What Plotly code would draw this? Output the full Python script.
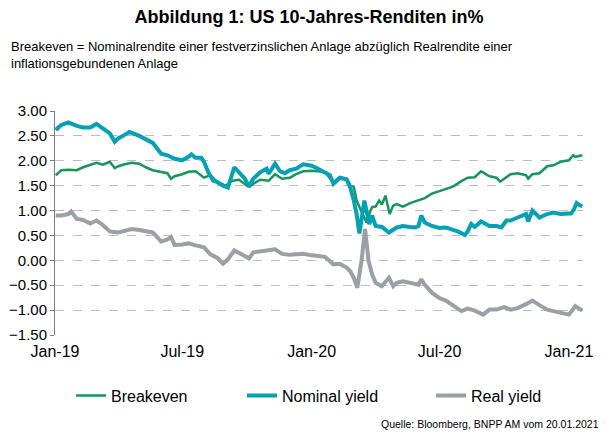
import plotly.graph_objects as go

# Breakeven
be_dates = ["2019-01-02", "2019-01-10", "2019-01-20", "2019-02-01", "2019-02-10", "2019-02-20",
            "2019-03-01", "2019-03-10", "2019-03-20", "2019-03-27", "2019-04-01", "2019-04-10",
            "2019-04-20", "2019-05-01", "2019-05-10", "2019-05-20", "2019-06-01", "2019-06-10",
            "2019-06-15", "2019-06-20", "2019-07-01", "2019-07-10", "2019-07-20", "2019-08-01",
            "2019-08-10", "2019-08-20", "2019-09-01", "2019-09-10", "2019-09-20", "2019-10-01",
            "2019-10-05", "2019-10-10", "2019-10-20", "2019-11-01", "2019-11-10", "2019-11-20",
            "2019-12-01", "2019-12-10", "2019-12-20", "2020-01-01", "2020-01-10", "2020-01-20",
            "2020-02-01", "2020-02-10", "2020-02-20", "2020-02-25", "2020-03-01", "2020-03-05",
            "2020-03-09", "2020-03-12", "2020-03-16", "2020-03-19", "2020-03-23", "2020-03-27",
            "2020-04-01", "2020-04-06", "2020-04-10", "2020-04-15", "2020-04-21", "2020-04-26",
            "2020-05-01", "2020-05-10", "2020-05-20", "2020-06-01", "2020-06-10", "2020-06-20",
            "2020-07-01", "2020-07-10", "2020-07-20", "2020-08-01", "2020-08-10", "2020-08-20",
            "2020-08-29", "2020-09-10", "2020-09-20", "2020-09-25", "2020-10-01", "2020-10-10",
            "2020-10-20", "2020-11-01", "2020-11-04", "2020-11-10", "2020-11-20", "2020-12-01",
            "2020-12-10", "2020-12-20", "2021-01-01", "2021-01-07", "2021-01-10", "2021-01-20"]
breakeven = [1.71, 1.81, 1.82, 1.81, 1.87, 1.91,
             1.96, 1.92, 1.98, 1.85, 1.89, 1.93,
             1.96, 1.94, 1.87, 1.81, 1.77, 1.75,
             1.64, 1.69, 1.73, 1.78, 1.79, 1.66,
             1.71, 1.57, 1.50, 1.60, 1.62, 1.50,
             1.48, 1.54, 1.62, 1.60, 1.73, 1.64,
             1.66, 1.73, 1.79, 1.80, 1.79, 1.77,
             1.57, 1.67, 1.64, 1.50, 1.48, 1.20,
             1.07, 0.97, 0.86, 0.76, 0.93, 1.07,
             1.08, 1.20, 1.12, 1.30, 0.93, 1.10,
             1.13, 1.08, 1.15, 1.20, 1.25, 1.34,
             1.39, 1.43, 1.48, 1.59, 1.66, 1.67,
             1.79, 1.69, 1.66, 1.58, 1.64, 1.73,
             1.75, 1.71, 1.64, 1.73, 1.75, 1.89,
             1.91, 1.98, 2.01, 2.11, 2.08, 2.11]

# Nominal yield
nom_dates = ["2019-01-02", "2019-01-10", "2019-01-20", "2019-02-01", "2019-02-10", "2019-02-20",
             "2019-03-01", "2019-03-10", "2019-03-20", "2019-03-27", "2019-04-01", "2019-04-10",
             "2019-04-17", "2019-05-01", "2019-05-10", "2019-05-20", "2019-06-01", "2019-06-10",
             "2019-06-20", "2019-07-01", "2019-07-10", "2019-07-14", "2019-07-20", "2019-07-28",
             "2019-08-01", "2019-08-07", "2019-08-14", "2019-08-20", "2019-08-28", "2019-09-04",
             "2019-09-13", "2019-09-20", "2019-09-28", "2019-10-04", "2019-10-10", "2019-10-20",
             "2019-10-29", "2019-11-01", "2019-11-10", "2019-11-17", "2019-11-24", "2019-12-01",
             "2019-12-10", "2019-12-20", "2020-01-01", "2020-01-10", "2020-01-20", "2020-01-27",
             "2020-02-01", "2020-02-10", "2020-02-20", "2020-02-25", "2020-03-01", "2020-03-05",
             "2020-03-09", "2020-03-12", "2020-03-16", "2020-03-19", "2020-03-23", "2020-03-27",
             "2020-04-01", "2020-04-10", "2020-04-20", "2020-05-01", "2020-05-10", "2020-05-20",
             "2020-05-27", "2020-06-01", "2020-06-05", "2020-06-10", "2020-06-20", "2020-07-01",
             "2020-07-10", "2020-07-20", "2020-07-27", "2020-08-06", "2020-08-10", "2020-08-15",
             "2020-08-20", "2020-08-29", "2020-09-10", "2020-09-20", "2020-09-27", "2020-10-04",
             "2020-10-10", "2020-10-20", "2020-11-01", "2020-11-04", "2020-11-10", "2020-11-20",
             "2020-12-01", "2020-12-10", "2020-12-20", "2021-01-01", "2021-01-04", "2021-01-08",
             "2021-01-12", "2021-01-15", "2021-01-20"]
nominal = [2.62, 2.72, 2.77, 2.70, 2.67, 2.67,
           2.74, 2.65, 2.55, 2.38, 2.45, 2.52,
           2.58, 2.50, 2.43, 2.36, 2.14, 2.11,
           2.04, 2.01, 2.08, 2.13, 2.06, 2.06,
           1.98, 1.77, 1.60, 1.57, 1.50, 1.46,
           1.87, 1.77, 1.64, 1.48, 1.64, 1.77,
           1.84, 1.74, 1.94, 1.79, 1.75, 1.81,
           1.84, 1.93, 1.90, 1.84, 1.77, 1.71,
           1.54, 1.66, 1.62, 1.46, 1.20, 0.93,
           0.54, 0.86, 1.20, 1.00, 0.73, 0.90,
           0.69, 0.67, 0.56, 0.66, 0.69, 0.67,
           0.66, 0.69, 0.90, 0.76, 0.69, 0.65,
           0.66, 0.61, 0.58, 0.51, 0.58, 0.73,
           0.67, 0.78, 0.69, 0.69, 0.66, 0.80,
           0.80, 0.86, 0.93, 0.78, 1.00, 0.86,
           0.93, 0.96, 0.93, 0.94, 0.94, 1.02,
           1.15, 1.12, 1.08]

# Real yield
real_dates = ["2019-01-02", "2019-01-10", "2019-01-20", "2019-01-24", "2019-02-01", "2019-02-10",
              "2019-02-20", "2019-03-01", "2019-03-10", "2019-03-20", "2019-04-01", "2019-04-10",
              "2019-04-20", "2019-05-01", "2019-05-10", "2019-05-20", "2019-06-01", "2019-06-10",
              "2019-06-15", "2019-06-20", "2019-07-01", "2019-07-10", "2019-07-20", "2019-08-01",
              "2019-08-10", "2019-08-20", "2019-08-28", "2019-09-04", "2019-09-13", "2019-09-23",
              "2019-10-04", "2019-10-10", "2019-10-20", "2019-11-01", "2019-11-10", "2019-11-20",
              "2019-12-01", "2019-12-10", "2019-12-20", "2020-01-01", "2020-01-10", "2020-01-20",
              "2020-02-01", "2020-02-10", "2020-02-20", "2020-02-25", "2020-03-01", "2020-03-06",
              "2020-03-09", "2020-03-12", "2020-03-17", "2020-03-19", "2020-03-22", "2020-03-27",
              "2020-04-01", "2020-04-10", "2020-04-20", "2020-04-26", "2020-05-01", "2020-05-10",
              "2020-05-20", "2020-06-01", "2020-06-05", "2020-06-10", "2020-06-20", "2020-07-01",
              "2020-07-10", "2020-07-20", "2020-08-01", "2020-08-10", "2020-08-20", "2020-09-01",
              "2020-09-10", "2020-09-20", "2020-10-01", "2020-10-10", "2020-10-20", "2020-11-01",
              "2020-11-10", "2020-11-20", "2020-12-01", "2020-12-10", "2020-12-20", "2021-01-01",
              "2021-01-10", "2021-01-20"]
real = [0.90, 0.90, 0.93, 0.98, 0.83, 0.81,
        0.74, 0.80, 0.71, 0.58, 0.56, 0.59,
        0.63, 0.61, 0.58, 0.56, 0.38, 0.42,
        0.47, 0.31, 0.32, 0.34, 0.30, 0.26,
        0.12, 0.05, -0.07, 0.02, 0.20, 0.12,
        0.04, 0.16, 0.18, 0.19, 0.22, 0.13,
        0.11, 0.12, 0.13, 0.10, 0.09, 0.07,
        -0.08, -0.07, -0.15, -0.22, -0.35, -0.55,
        -0.28, -0.01, 0.63, 0.35, -0.01, -0.28,
        -0.45, -0.52, -0.35, -0.52, -0.45, -0.42,
        -0.45, -0.49, -0.38, -0.49, -0.65, -0.76,
        -0.81, -0.90, -1.02, -0.97, -1.01, -1.09,
        -0.99, -0.99, -0.94, -0.99, -0.96, -0.88,
        -0.81, -0.90, -0.99, -1.02, -1.06, -1.09,
        -0.92, -1.01]

x_ticks = ["2019-01-01", "2019-07-01", "2020-01-01", "2020-07-01", "2021-01-01"]
x_labels = ["Jan-19", "Jul-19", "Jan-20", "Jul-20", "Jan-21"]
y_ticks = [3.0, 2.5, 2.0, 1.5, 1.0, 0.5, 0.0, -0.5, -1.0, -1.5]

FONT = "Liberation Sans, Arial, sans-serif"
GREEN = "#17965a"
TEAL = "#03a1b3"
GREY = "#9aa0a6"

fig = go.Figure()
fig.add_trace(go.Scatter(x=be_dates, y=breakeven, name="Breakeven", mode="lines",
                         line=dict(color=GREEN, width=2.5), legend="legend"))
fig.add_trace(go.Scatter(x=nom_dates, y=nominal, name="Nominal yield", mode="lines",
                         line=dict(color=TEAL, width=4), legend="legend2"))
fig.add_trace(go.Scatter(x=real_dates, y=real, name="Real yield", mode="lines",
                         line=dict(color=GREY, width=4), legend="legend3"))

x_range = ["2019-01-01", "2021-01-21"]
leg = dict(orientation="h", yanchor="middle", y=-0.27, xanchor="left",
           font=dict(family=FONT, size=16, color="#000"), bgcolor="rgba(0,0,0,0)")

# page has an 8px body margin, so the figure is 8px smaller than the window
fig.update_layout(
    width=602, height=427,
    margin=dict(l=47, r=27, t=103, b=100),
    showlegend=True,
    plot_bgcolor="white", paper_bgcolor="white",
    font=dict(family=FONT, color="#000"),
    title=dict(text="<b>Abbildung 1: US 10-Jahres-Renditen in%</b>",
               x=0.5, xanchor="center", xref="container",
               y=1 - 2 / 427, yanchor="top", yref="container", pad=dict(t=0),
               font=dict(family=FONT, size=18, color="#000")),
    xaxis=dict(type="date", range=x_range, tickvals=x_ticks, ticktext=x_labels,
               showgrid=False, zeroline=False, showline=False, ticks="",
               ticklabelstandoff=5,
               tickfont=dict(family=FONT, size=16, color="#000")),
    xaxis2=dict(type="date", range=x_range, tickvals=x_ticks, overlaying="x",
                anchor="free", position=1.5 / 4.5, showticklabels=False,
                showgrid=False, zeroline=False, showline=True, linecolor="#000",
                linewidth=1, ticks="outside", ticklen=6, tickcolor="#000"),
    yaxis=dict(range=[-1.5, 3.0], tickvals=y_ticks, tickformat=".2f",
               showgrid=True, gridcolor="#bdbdbd", griddash="dash", gridwidth=1,
               zeroline=False, showline=True, linecolor="#7f7f7f", linewidth=1,
               ticks="outside", ticklen=4, tickcolor="#7f7f7f",
               automargin=False,
               tickfont=dict(family=FONT, size=15, color="#000")),
    legend=dict(leg, x=(71 - 55) / 528),
    legend2=dict(leg, x=(242 - 55) / 528),
    legend3=dict(leg, x=(431 - 55) / 528),
)

fig.add_annotation(text="Breakeven = Nominalrendite einer festverzinslichen Anlage abzüglich Realrendite einer<br>inflationsgebundenen Anlage",
                   xref="paper", yref="paper", x=(9 - 55) / 528, y=(335 - 37) / 224,
                   xanchor="left", yanchor="top", align="left", showarrow=False,
                   font=dict(family=FONT, size=13, color="#000"))
fig.add_annotation(text="Quelle: Bloomberg, BNPP AM vom 20.01.2021",
                   xref="paper", yref="paper", x=(601 - 55) / 528, y=(335 - 424) / 224,
                   xanchor="right", yanchor="middle", showarrow=False,
                   font=dict(family=FONT, size=10.5, color="#000"))

fig.write_html("out.html")
